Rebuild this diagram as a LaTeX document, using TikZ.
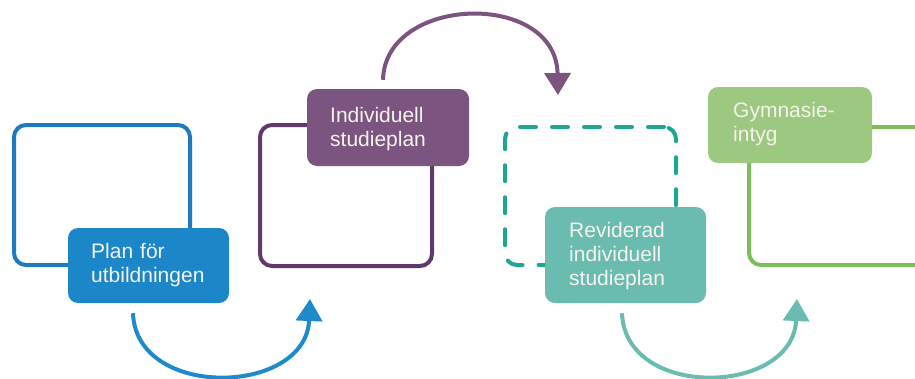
\documentclass[tikz,border=0pt]{standalone}
\usepackage{fontspec}
\setmainfont{Liberation Sans}
\usetikzlibrary{arrows.meta}
\definecolor{bluefill}{HTML}{1B86C8}
\definecolor{blueline}{HTML}{1E79C0}
\definecolor{bluearrow}{HTML}{1E8ACB}
\definecolor{purplefill}{HTML}{7B5580}
\definecolor{purpleline}{HTML}{613A6C}
\definecolor{tealfill}{HTML}{6ABCB1}
\definecolor{tealline}{HTML}{20A592}
\definecolor{greenfill}{HTML}{9DC87F}
\definecolor{greenline}{HTML}{7DBE5B}
\definecolor{textc}{HTML}{F5F3EA}
\begin{document}
\begin{tikzpicture}[x=1pt,y=-1pt,
  outline/.style={draw, line width=4pt, rounded corners=12pt, rectangle, inner sep=0pt},
  filled/.style={rectangle, rounded corners=10pt, inner sep=0pt},
  lbl/.style={font=\fontsize{21}{24}\selectfont, text=textc, align=left, text width=150pt, anchor=base west, inner sep=0pt},
  flow/.style={line width=4pt, -{Triangle[width=26pt,length=22pt]}}]
\useasboundingbox (0,0) rectangle (915,378);
\clip (0,0) rectangle (915,378);
% outline boxes
\node[outline, draw=blueline, minimum width=176pt, minimum height=140pt] (o1) at (102,195) {};
\node[outline, draw=purpleline, minimum width=172pt, minimum height=141pt] (o2) at (346,195.5) {};
\node[outline, draw=tealline, dash pattern=on 16pt off 16pt, line cap=round, minimum width=171pt, minimum height=138pt] (o3) at (590.5,196) {};
\node[outline, draw=greenline, minimum width=181pt, minimum height=138pt] (o4) at (839.5,196) {};
% filled boxes
\node[filled, fill=bluefill, minimum width=161pt, minimum height=75pt] (b1) at (148.5,265.5) {};
\node[filled, fill=purplefill, minimum width=162pt, minimum height=77pt] (b2) at (388,127.5) {};
\node[filled, fill=tealfill, minimum width=161pt, minimum height=96pt] (b3) at (625.5,255) {};
\node[filled, fill=greenfill, minimum width=164pt, minimum height=76pt] (b4) at (790,125) {};
% labels
\node[lbl] (t1) at (91,258) {Plan för\\utbildningen};
\node[lbl] (t2) at (330,122) {Individuell\\studieplan};
\node[lbl] (t3) at (569,237) {Reviderad\\individuell\\studieplan};
\node[lbl] (t4) at (733,117) {Gymnasie-\\intyg};
% arrows
\draw[flow, draw=bluearrow] ([xshift=-15.5pt,yshift=-10pt]b1.south) .. controls (136,400) and (306,396) .. ([xshift=-36pt,yshift=-31pt]o2.south);
\draw[flow, draw=purplefill] ([xshift=-5pt,yshift=9pt]b2.north) .. controls (385,-5) and (556,-10) .. ([xshift=-32.5pt,yshift=30pt]o3.north);
\draw[flow, draw=tealfill] ([xshift=-3.5pt,yshift=-10pt]b3.south) .. controls (625,400) and (793,396) .. ([xshift=-42.5pt,yshift=-32pt]o4.south);
\end{tikzpicture}
\end{document}
